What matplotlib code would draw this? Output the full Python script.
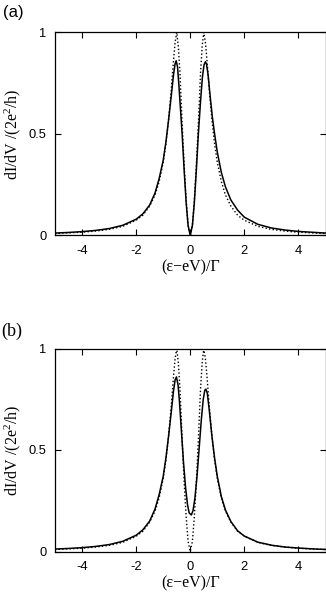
import matplotlib
matplotlib.use("Agg")
import matplotlib.pyplot as plt

plt.rcParams["mathtext.fontset"] = "custom"
plt.rcParams["mathtext.rm"] = "Liberation Serif"
plt.rcParams["mathtext.it"] = "Liberation Serif:italic"

# ---- data ----
# panel (a), solid curve
a_solid_x = [-5, -4.5, -4, -3.5, -3, -2.5, -2, -1.75, -1.5, -1.3, -1.15, -1.0, -0.9, -0.8, -0.7,
             -0.62, -0.56, -0.52, -0.47, -0.42, -0.36, -0.3, -0.22, -0.15, -0.08, 0.0,
             0.08, 0.15, 0.22, 0.3, 0.38, 0.45, 0.51, 0.56, 0.6, 0.66, 0.74, 0.82, 0.9,
             1.0, 1.15, 1.3, 1.5, 1.75, 2.0, 2.5, 3.0, 3.5, 4.0, 4.5, 5.0]
a_solid_y = [0.012, 0.015, 0.019, 0.025, 0.034, 0.05, 0.08, 0.107, 0.15, 0.21, 0.28, 0.37, 0.46, 0.57, 0.69,
             0.79, 0.845, 0.86, 0.83, 0.74, 0.62, 0.5, 0.31, 0.16, 0.05, 0.0,
             0.05, 0.16, 0.31, 0.5, 0.66, 0.78, 0.84, 0.855, 0.845, 0.79, 0.68, 0.58, 0.5,
             0.41, 0.31, 0.24, 0.175, 0.125, 0.09, 0.055, 0.037, 0.027, 0.02, 0.016, 0.012]

# dotted curve (same in both panels)
dot_x = [-5, -4.5, -4, -3.5, -3, -2.5, -2, -1.75, -1.5, -1.3, -1.15, -1.0, -0.9, -0.8, -0.7,
         -0.62, -0.56, -0.5, -0.44, -0.38, -0.3, -0.22, -0.15, -0.08, 0.0,
         0.08, 0.15, 0.22, 0.3, 0.38, 0.44, 0.5, 0.56, 0.62, 0.7, 0.8, 0.9, 1.0,
         1.15, 1.3, 1.5, 1.75, 2.0, 2.5, 3.0, 3.5, 4.0, 4.5, 5.0]
dot_y = [0.01, 0.013, 0.016, 0.022, 0.03, 0.045, 0.075, 0.1, 0.145, 0.2, 0.265, 0.36, 0.45, 0.57, 0.72,
         0.86, 0.95, 1.0, 0.93, 0.8, 0.55, 0.33, 0.17, 0.05, 0.0,
         0.05, 0.17, 0.33, 0.55, 0.8, 0.93, 1.0, 0.95, 0.86, 0.72, 0.57, 0.45, 0.36,
         0.265, 0.2, 0.145, 0.1, 0.075, 0.045, 0.03, 0.022, 0.016, 0.013, 0.01]

# panel (b), solid curve
b_solid_x = [-5, -4.5, -4, -3.5, -3, -2.5, -2, -1.75, -1.5, -1.3, -1.15, -1.0, -0.9, -0.8, -0.7,
             -0.62, -0.56, -0.51, -0.45, -0.4, -0.33, -0.25, -0.17, -0.1, -0.04, 0.04,
             0.1, 0.17, 0.25, 0.33, 0.41, 0.48, 0.54, 0.58, 0.63, 0.7, 0.8, 0.9, 1.0,
             1.15, 1.3, 1.5, 1.75, 2.0, 2.5, 3.0, 3.5, 4.0, 4.5, 5.0]
b_solid_y = [0.012, 0.015, 0.019, 0.025, 0.034, 0.05, 0.08, 0.107, 0.15, 0.21, 0.28, 0.37, 0.46, 0.57, 0.69,
             0.79, 0.845, 0.86, 0.82, 0.74, 0.6, 0.44, 0.31, 0.23, 0.19, 0.18,
             0.2, 0.26, 0.37, 0.51, 0.65, 0.75, 0.795, 0.8, 0.78, 0.7, 0.57, 0.46, 0.37,
             0.27, 0.205, 0.148, 0.102, 0.076, 0.046, 0.031, 0.022, 0.017, 0.013, 0.01]

x_ticks = [-4, -2, 0, 2, 4]
y_ticks = [0, 0.5, 1]
y_ticklabels = ["0", "0.5", "1"]
panel_labels = ["(a)", "(b)"]

# ---- figure ----
W, H = 326, 595
fig = plt.figure(figsize=(W / 100, H / 100), dpi=100)

sans = "Liberation Sans"
serif = "Liberation Serif"

def px_axes(left, top, right, bottom):
    return [left / W, 1 - bottom / H, (right - left) / W, (bottom - top) / H]

panels = [
    (px_axes(55, 32.3, 325.5, 235.5), a_solid_x, a_solid_y),
    (px_axes(55, 348.5, 325.5, 551.5), b_solid_x, b_solid_y),
]

for i, (rect, sx, sy) in enumerate(panels):
    ax = fig.add_axes(rect)
    ax.plot(dot_x, dot_y, color="black", lw=1.0, linestyle=(0, (1, 1.6)))
    ax.plot(sx, sy, color="black", lw=1.1)
    ax.set_xlim(-5, 5)
    ax.set_ylim(0, 1)
    ax.set_xticks(x_ticks)
    ax.set_xticklabels([str(t) for t in x_ticks])
    ax.set_yticks(y_ticks)
    ax.set_yticklabels(y_ticklabels)
    ax.tick_params(direction="in", length=4, width=0.8, top=True, right=True,
                   labelsize=9.3)
    ax.tick_params(axis="x", pad=7)
    ax.tick_params(axis="y", pad=6)
    for lab in ax.get_xticklabels() + ax.get_yticklabels():
        lab.set_fontfamily(sans)
    for s in ax.spines.values():
        s.set_linewidth(0.9)
    ax.set_xlabel("(ε−eV)/Γ", fontfamily=serif, fontsize=11.5, labelpad=1.5)
    ax.set_ylabel("dI/dV /(2e$^2$/h)", fontfamily=serif, fontsize=11.5, labelpad=4)

fig.text(3 / W, 1 - 13 / H, panel_labels[0], fontfamily=sans, fontsize=12,
         ha="left", va="center")
fig.text(1 / W, 1 - 331 / H, panel_labels[1], fontfamily=serif, fontsize=13,
         ha="left", va="center")

fig.savefig("out.png", dpi=100)
